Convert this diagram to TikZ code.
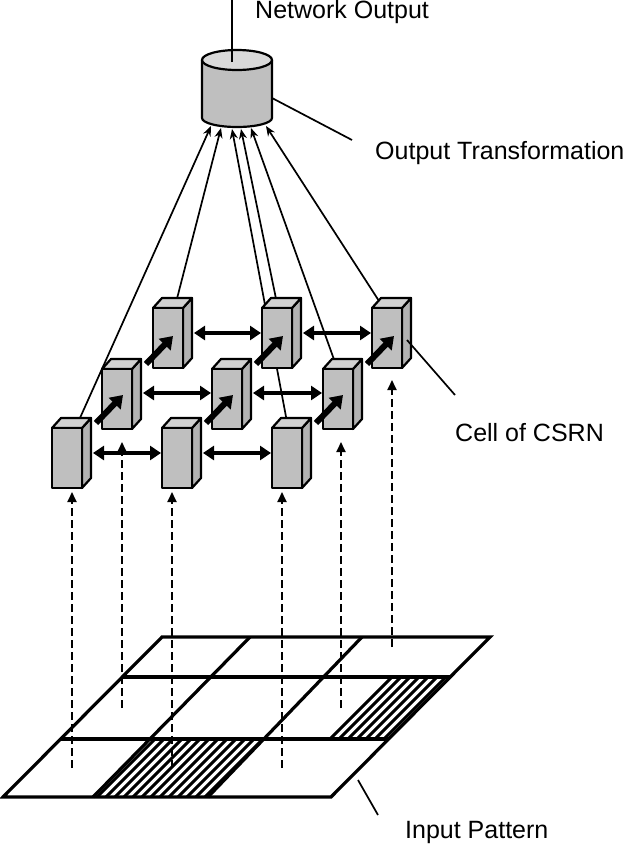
\documentclass[tikz,border=0pt]{standalone}
\usepackage{fontspec}
\setmainfont{Liberation Sans}
\usetikzlibrary{arrows.meta}
\begin{document}
\begin{tikzpicture}[x=1pt,y=-1pt,
  lbl/.style={font=\fontsize{25}{29}\selectfont,anchor=west,inner sep=0},
  grid/.style={line width=3.2pt,line join=miter},
  inarrow/.style={dash pattern=on 8pt off 4pt,line width=1.8pt,-{Triangle[length=10pt,width=9pt]}},
  hor/.style={line width=4.5pt,{Triangle[length=11pt,width=14pt]}-{Triangle[length=11pt,width=14pt]}},
  diag/.style={line width=6pt,-{Triangle[length=12pt,width=16pt]}},
  feed/.style={line width=1.7pt,-{Stealth[length=10pt,width=8pt]}},
  cell/.style={draw,line width=2.2pt,line join=round}]
\useasboundingbox (0,0) rectangle (640,847);
\newcommand{\cellbox}[3]{%
  \filldraw[cell,fill=gray!60] (#1+30,#2) -- (#1+39,#2-10) -- (#1+39,#2+50) -- (#1+30,#2+60) -- cycle;
  \filldraw[cell,fill=gray!35] (#1,#2) -- (#1+9,#2-10) -- (#1+39,#2-10) -- (#1+30,#2) -- cycle;
  \filldraw[cell,fill=gray!50] (#1,#2) rectangle (#1+30,#2+60);
  \coordinate (#3) at (#1,#2);}
% grid hatching
\begin{scope}
\clip (388,677) -- (451,677) -- (388,739) -- (327,739) -- cycle;
\foreach \i in {0,...,20} \draw[line width=3pt] (260+\i*9,800) -- ++(170,-170);
\end{scope}
\begin{scope}
\clip (93,797) -- (208,797) -- (269,739) -- (153,739) -- cycle;
\foreach \i in {0,...,20} \draw[line width=3pt] (85+\i*9,800) -- ++(70,-70);
\end{scope}
\draw[grid] (162,637) -- (490,637) -- (331,797) -- (3,797) -- cycle;
\draw[grid] (122,677) -- (451,677);
\draw[grid] (61,739) -- (388,739);
\draw[grid] (250,637) -- (93,797);
\draw[grid] (362,637) -- (208,797);
% coordinates of cell tops
\coordinate (t1) at (153,308);\coordinate (t2) at (262,308);\coordinate (t3) at (372,308);
\coordinate (m3) at (323,369);\coordinate (b1) at (52,428);\coordinate (b3) at (272,428);
% cylinder
\draw[line width=2.2pt,fill=gray!50] (202,60) -- (202,118) arc[start angle=180,end angle=0,x radius=35,y radius=9] -- (272,60);
\draw[line width=2.2pt,fill=gray!30] (237,60) ellipse[x radius=35,y radius=10];
\draw[line width=2.2pt] (232,62) -- (232,0);
% feed lines (behind cells)
\draw[feed] ([shift={(19pt,-10pt)}]b1) -- (211,126);
\draw[feed] ([shift={(19pt,-10pt)}]t1) -- (221,128);
\draw[feed] ([shift={(18pt,-10pt)}]b3) -- (232,129);
\draw[feed] ([shift={(18pt,-10pt)}]t2) -- (241,129);
\draw[feed] ([shift={(18pt,-10pt)}]m3) -- (251,128);
\draw[feed] ([shift={(18pt,-10pt)}]t3) -- (266,126);
% cells
\cellbox{153}{308}{t1}\cellbox{262}{308}{t2}\cellbox{372}{308}{t3}
\cellbox{102}{369}{m1}\cellbox{212}{369}{m2}\cellbox{323}{369}{m3}
\cellbox{52}{428}{b1}\cellbox{162}{428}{b2}\cellbox{272}{428}{b3}
% horizontal arrows
\foreach \a/\b/\y in {b1/b2/453,b2/b3/453,m1/m2/393,m2/m3/393,t1/t2/333,t2/t3/333}
  \draw[hor] ([xshift=41pt]\a |- 0,\y) -- ([xshift=-1pt]\b |- 0,\y);
% diagonal arrows
\foreach \a in {b1,b2,b3,m1,m2,m3}
  \draw[diag] ([shift={(44pt,5pt)}]\a) -- ++(27,-28);
% dashed inputs
\draw[inarrow] (72,768) -- (72,492);
\draw[inarrow] (172,768) -- (172,492);
\draw[inarrow] (282,768) -- (282,492);
\draw[inarrow] (122,708) -- (122,442);
\draw[inarrow] (341,708) -- (341,442);
\draw[inarrow] (392,647) -- (392,380);
% labels
\node[lbl] (no) at (255,12) {Network Output};
\node[lbl] (ot) at (375,153) {Output Transformation};
\node[lbl] (cc) at (455,433) {Cell of CSRN};
\node[lbl] (ip) at (405,832) {Input Pattern};
\draw[line width=1.7pt] (272,98) -- (352,140);
\draw[line width=1.7pt] (407,340) -- (455,395);
\draw[line width=1.7pt] (358,780) -- (378,815);
\end{tikzpicture}
\end{document}
